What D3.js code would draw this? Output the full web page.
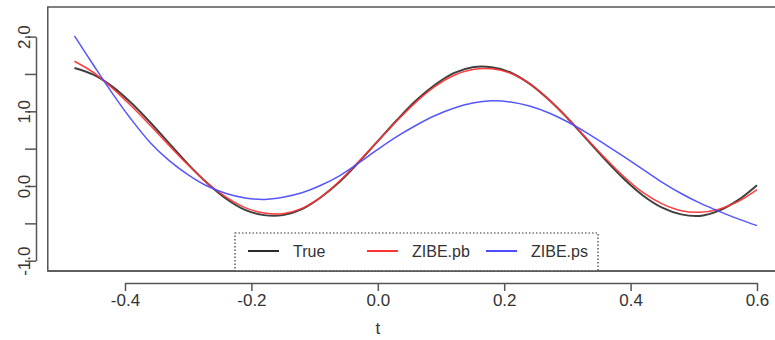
<!DOCTYPE html>
<html>
<head>
<meta charset="utf-8">
<script src="https://cdn.jsdelivr.net/npm/d3@7"></script>
<style>
  html, body { margin: 0; padding: 0; background: #fff; }
  svg { display: block; }
  text { font-family: "Liberation Sans", Arial, sans-serif; fill: #333; }
</style>
</head>
<body>
<svg id="chart" width="775" height="340"></svg>
<script>
// ---- data ----
const tValues = [-0.48, -0.45, -0.42, -0.39, -0.36, -0.33, -0.30, -0.27, -0.24, -0.21,
                 -0.18, -0.15, -0.12, -0.09, -0.06, -0.03, 0.00, 0.03, 0.06, 0.09,
                 0.12, 0.15, 0.18, 0.21, 0.24, 0.27, 0.30, 0.33, 0.36, 0.39,
                 0.42, 0.45, 0.48, 0.51, 0.54, 0.57, 0.60];
const trueValues = [1.58, 1.49, 1.33, 1.11, 0.85, 0.57, 0.29, 0.04, -0.17, -0.32,
                    -0.39, -0.39, -0.31, -0.15, 0.06, 0.32, 0.60, 0.88, 1.14, 1.35,
                    1.51, 1.59, 1.59, 1.52, 1.37, 1.16, 0.91, 0.63, 0.35, 0.09,
                    -0.13, -0.29, -0.38, -0.40, -0.33, -0.19, 0.01];
const pbValues = [1.67, 1.52, 1.31, 1.07, 0.81, 0.54, 0.28, 0.04, -0.15, -0.29,
                  -0.36, -0.37, -0.30, -0.15, 0.07, 0.33, 0.60, 0.87, 1.12, 1.33,
                  1.48, 1.56, 1.57, 1.51, 1.37, 1.16, 0.91, 0.64, 0.37, 0.12,
                  -0.09, -0.24, -0.33, -0.35, -0.31, -0.21, -0.05];
const psValues = [2.01, 1.62, 1.24, 0.89, 0.58, 0.34, 0.15, 0.00, -0.10, -0.16,
                  -0.18, -0.15, -0.09, 0.01, 0.14, 0.31, 0.49, 0.66, 0.81, 0.94,
                  1.04, 1.11, 1.14, 1.125, 1.07, 0.98, 0.86, 0.715, 0.555, 0.39,
                  0.22, 0.05, -0.10, -0.23, -0.34, -0.44, -0.53];
const seriesNames = ["True", "ZIBE.pb", "ZIBE.ps"];
const seriesColors = ["#2b2b2b", "#ff3333", "#4d4dff"];
const xTicks = [-0.4, -0.2, 0.0, 0.2, 0.4, 0.6];
const xTickLabels = ["-0.4", "-0.2", "0.0", "0.2", "0.4", "0.6"];
const yTicks = [-1.0, -0.5, 0.0, 0.5, 1.0, 1.5, 2.0];
const yTickLabels = ["-1.0", "", "0.0", "", "1.0", "", "2.0"];
const xTitle = "t";

// ---- layout ----
const svg = d3.select("#chart");
const x = d3.scaleLinear().domain([-0.4, 0.6]).range([125, 757]);
const y = d3.scaleLinear().domain([-1, 2]).range([260.7, 36.6]);
const box = { left: x(-0.5222), right: x(0.6422), top: 7, bottom: 271 };
const axisColor = "#555";

// plot box
svg.append("rect")
  .attr("x", box.left).attr("y", box.top)
  .attr("width", box.right - box.left).attr("height", box.bottom - box.top)
  .attr("fill", "none").attr("stroke", axisColor).attr("stroke-width", 1.5);

// curves
const allSeries = [trueValues, pbValues, psValues];
const line = d3.line().x(d => x(d[0])).y(d => y(d[1])).curve(d3.curveCatmullRom.alpha(0.5));
allSeries.forEach((vals, i) => {
  svg.append("path")
    .datum(tValues.map((t, j) => [t, vals[j]]))
    .attr("fill", "none")
    .attr("stroke", seriesColors[i])
    .attr("stroke-width", i === 0 ? 2 : 1.5)
    .attr("stroke-opacity", i === 0 ? 0.9 : 0.95)
    .attr("d", line);
});

// x axis
const xAxis = d3.axisBottom(x).tickValues(xTicks)
  .tickFormat((d, i) => xTickLabels[i]).tickSize(8).tickSizeOuter(0).tickPadding(3);
const gx = svg.append("g").attr("transform", "translate(0,283)").call(xAxis);
gx.select(".domain").attr("stroke", axisColor).attr("stroke-width", 1.5);
gx.selectAll(".tick line").attr("stroke", axisColor).attr("stroke-width", 1.5);
gx.selectAll(".tick text").attr("font-size", 17).attr("fill", "#333")
  .attr("font-family", "Liberation Sans, Arial, sans-serif");

// y axis
const yAxis = d3.axisLeft(y).tickValues(yTicks)
  .tickFormat((d, i) => yTickLabels[i]).tickSize(11).tickSizeOuter(0);
const gy = svg.append("g").attr("transform", "translate(36,0)").call(yAxis);
gy.select(".domain").attr("stroke", axisColor).attr("stroke-width", 1.5);
gy.selectAll(".tick line").attr("stroke", axisColor).attr("stroke-width", 1.5);
gy.selectAll(".tick text")
  .attr("font-size", 17).attr("fill", "#333")
  .attr("font-family", "Liberation Sans, Arial, sans-serif")
  .attr("text-anchor", "middle")
  .attr("x", 0).attr("y", -6).attr("dy", 0)
  .attr("transform", "rotate(-90)");

// x title
svg.append("text").attr("x", x(0)).attr("y", 334)
  .attr("text-anchor", "middle").attr("font-size", 17).text(xTitle);

// legend
const legend = svg.append("g");
legend.append("rect")
  .attr("x", 235).attr("y", 233).attr("width", 363).attr("height", 38)
  .attr("fill", "#fff").attr("stroke", "#333").attr("stroke-width", 1.2)
  .attr("stroke-dasharray", "1.5,2");
const legendX = [248, 367, 486];
seriesNames.forEach((name, i) => {
  legend.append("line")
    .attr("x1", legendX[i]).attr("x2", legendX[i] + 31)
    .attr("y1", 251).attr("y2", 251)
    .attr("stroke", seriesColors[i]).attr("stroke-width", 2);
  legend.append("text")
    .attr("x", legendX[i] + 45).attr("y", 257)
    .attr("font-size", 16).text(name);
});
// redraw bottom box edge over legend
svg.append("line").attr("x1", box.left).attr("x2", box.right)
  .attr("y1", box.bottom).attr("y2", box.bottom)
  .attr("stroke", axisColor).attr("stroke-width", 1.5);
</script>
</body>
</html>
